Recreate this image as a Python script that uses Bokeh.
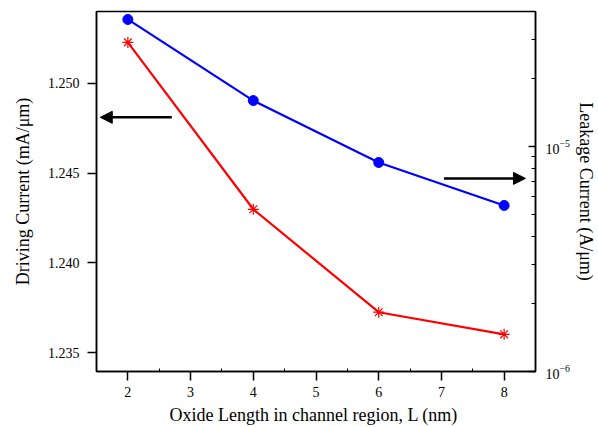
from bokeh.plotting import figure
from bokeh.models import (Range1d, LogScale, LogAxis, Arrow, NormalHead, FixedTicker,
                          LogTickFormatter, PrintfTickFormatter)
from bokeh.embed import file_html
from bokeh.resources import INLINE

oxide_len = [2, 4, 6, 8]
driving_current = [1.25228, 1.24299, 1.23726, 1.23603]
leakage_current = [3.67e-5, 1.60e-5, 8.49e-6, 5.47e-6]
x_ticks = [2, 3, 4, 5, 6, 7, 8]
y_ticks = [1.235, 1.240, 1.245, 1.250]
log_ticks = [1e-6, 1e-5]
log_minor = [2e-6, 3e-6, 4e-6, 5e-6, 6e-6, 7e-6, 8e-6, 9e-6, 2e-5, 3e-5]

FONT = "Liberation Serif"

p = figure(width=598, height=427, output_backend="svg", toolbar_location=None,
           x_range=Range1d(1.5, 8.5), y_range=Range1d(1.23396, 1.254),
           min_border_left=96, min_border_right=58, min_border_top=11, min_border_bottom=56)
p.xgrid.visible = False
p.ygrid.visible = False
p.outline_line_color = "black"
p.outline_line_width = 1.5
p.background_fill_color = "white"
p.border_fill_color = "white"

p.extra_y_ranges = {"leak": Range1d(1e-6, 10 ** -4.4)}
p.extra_y_scales = {"leak": LogScale()}

ya = p.yaxis[0]
ya.ticker = FixedTicker(ticks=y_ticks)
ya.axis_label = "Driving Current (mA/μm)"
ya.formatter = PrintfTickFormatter(format="%.3f")

xa = p.xaxis[0]
xa.ticker = FixedTicker(ticks=x_ticks, minor_ticks=[2.5, 3.5, 4.5, 5.5, 6.5, 7.5])
xa.axis_label = "Oxide Length in channel region, L  (nm)"

right = LogAxis(y_range_name="leak", axis_label="Leakage Current (A/μm)",
                ticker=FixedTicker(ticks=log_ticks, minor_ticks=log_minor),
                formatter=LogTickFormatter())
p.add_layout(right, "right")

for ax in [ya, xa, right]:
    ax.axis_line_color = "black"
    ax.axis_line_width = 1.5
    ax.major_tick_line_color = "black"
    ax.major_tick_line_width = 1.5
    ax.minor_tick_line_color = "black"
    ax.major_label_text_font = FONT
    ax.major_label_text_font_size = "14px"
    ax.major_label_text_color = "black"
    ax.axis_label_text_font = FONT
    ax.axis_label_text_font_size = "18px"
    ax.axis_label_text_font_style = "normal"
    ax.axis_label_text_color = "black"

ya.major_tick_out = 9
ya.major_tick_in = 0
ya.minor_tick_out = 0
ya.minor_tick_in = 0
ya.major_label_standoff = 8
xa.major_tick_out = 9
xa.major_tick_in = 0
xa.minor_tick_out = 0
xa.minor_tick_in = 3
xa.major_label_standoff = 6
right.major_tick_in = 7
right.major_tick_out = 0
right.minor_tick_in = 4
right.minor_tick_out = 0
right.major_label_standoff = 10
ya.axis_label_standoff = 12
right.axis_label_standoff = 3
xa.axis_label_standoff = 5

p.line(oxide_len, driving_current, line_color="#ff0000", line_width=2.2)
p.scatter(oxide_len, driving_current, marker="asterisk", size=11, line_color="#ff0000", line_width=1.2)

p.line(oxide_len, leakage_current, line_color="#0000ff", line_width=2.2, y_range_name="leak")
p.scatter(oxide_len, leakage_current, marker="circle", size=10, fill_color="#0000ff",
          line_color="#0000ff", y_range_name="leak")

p.add_layout(Arrow(x_start=2.70, y_start=1.24811, x_end=1.56, y_end=1.24811,
                   line_color="black", line_width=2.5,
                   end=NormalHead(size=12, fill_color="black", line_color="black")))
p.add_layout(Arrow(x_start=7.04, y_start=1.24471, x_end=8.34, y_end=1.24471,
                   line_color="black", line_width=2.5,
                   end=NormalHead(size=12, fill_color="black", line_color="black")))

open("out.html", "w").write(file_html(p, INLINE))
